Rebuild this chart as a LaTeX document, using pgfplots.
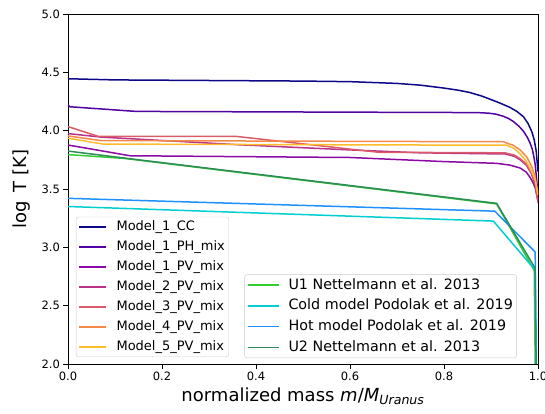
\documentclass[border=0pt]{standalone}
\usepackage{pgfplots}
\pgfplotsset{compat=1.18}
\usepackage{fontspec}
\setmainfont{DejaVu Sans}

% plasma-like sequence for the seven interior models
\definecolor{pl0}{HTML}{0D0887}
\definecolor{pl1}{HTML}{5302A3}
\definecolor{pl2}{HTML}{8B0AA5}
\definecolor{pl3}{HTML}{B83289}
\definecolor{pl4}{HTML}{DB5C68}
\definecolor{pl5}{HTML}{F48849}
\definecolor{pl6}{HTML}{FEBC2A}
% published reference profiles
\definecolor{limeg}{HTML}{32CD32}
\definecolor{dturq}{HTML}{00CED1}
\definecolor{dodger}{HTML}{1E90FF}
\definecolor{seag}{HTML}{2E8B57}

\pgfplotsset{
  common/.style={
    scale only axis, width=470bp, height=350bp,
    xmin=0, xmax=1, ymin=2, ymax=5,
    every axis plot/.append style={line width=1.5bp, line join=round},
    legend cell align=left,
  },
  boxed legend/.style={
    legend style={
      draw=black!20, rounded corners=2.5bp, fill=white, fill opacity=0.8,
      text opacity=1, draw opacity=1, inner xsep=2.4bp, inner ysep=2bp,
      column sep=0bp,
    },
  },
}

\begin{document}
\begin{tikzpicture}
\begin{axis}[
  common, boxed legend, name=main,
  axis line style={line width=0.9bp},
  tick align=outside, major tick length=4.6bp,
  every tick/.style={black, line width=0.9bp},
  xtick={0,0.2,...,1.0}, ytick={2,2.5,...,5},
  xtick pos=bottom, ytick pos=left,
  /pgf/number format/assume math mode=true,
  /pgf/number format/.cd, fixed, fixed zerofill, precision=1,
  /pgfplots/.cd,
  ticklabel style={font=\fontsize{11.5bp}{13bp}\selectfont},
  xlabel={normalized mass \textit{m}/\textit{M}\textsubscript{\textit{Uranus}}},
  ylabel={log\, T [K]},
  every axis x label/.style={at={(axis description cs:0.5,-0.092)}, anchor=center,
    font=\fontsize{18bp}{21bp}\selectfont},
  every axis y label/.style={at={(axis description cs:-0.098,0.5)}, anchor=center,
    rotate=90, font=\fontsize{18bp}{21bp}\selectfont},
  legend image code/.code={
    \draw[#1, line width=1.6bp] (0bp,0bp) -- (27bp,0bp);
    \path (0bp,-2bp) (35bp,2bp);},
  legend style={at={(axis description cs:0.017,0.02)}, anchor=south west,
    font=\fontsize{13bp}{15bp}\selectfont, row sep=4.2bp,
    nodes={inner sep=1.4bp, text height=10bp, text depth=3bp}},
]
\addplot[pl0] coordinates {
  (0,4.445) (0.05,4.44) (0.1,4.435) (0.3,4.43) (0.5,4.425) (0.6,4.42)
  (0.7,4.405) (0.75,4.39) (0.8,4.365) (0.83,4.347) (0.855,4.327) (0.88,4.297)
  (0.901,4.265) (0.92,4.235) (0.94,4.20) (0.955,4.165) (0.969,4.12) (0.979,4.06)
  (0.987,3.99) (0.992,3.92) (0.996,3.83) (1.0,3.65)};
\addlegendentry{Model\_1\_CC}
\addplot[pl1] coordinates {
  (0,4.22) (0.004,4.205) (0.145,4.165) (0.5,4.16) (0.87,4.155) (0.895,4.15)
  (0.91,4.142) (0.925,4.125) (0.937,4.105) (0.947,4.08) (0.959,4.04) (0.969,3.995)
  (0.977,3.945) (0.983,3.895) (0.988,3.84) (0.991,3.78) (0.994,3.71) (0.996,3.63)
  (1.0,3.45)};
\addlegendentry{Model\_1\_PH\_mix}
\addplot[pl2] coordinates {
  (0,3.877) (0.132,3.785) (0.6,3.77) (0.8,3.735) (0.912,3.72) (0.94,3.705)
  (0.962,3.68) (0.975,3.645) (0.983,3.60) (0.99,3.55) (0.994,3.51) (1.0,3.40)};
\addlegendentry{Model\_1\_PV\_mix}
\addplot[pl3] coordinates {
  (0,3.975) (0.07,3.945) (0.36,3.88) (0.6,3.835) (0.75,3.81) (0.93,3.80)
  (0.95,3.78) (0.962,3.75) (0.975,3.705) (0.985,3.64) (0.994,3.54) (1.0,3.40)};
\addlegendentry{Model\_2\_PV\_mix}
\addplot[pl4] coordinates {
  (0,4.035) (0.065,3.95) (0.36,3.95) (0.66,3.815) (0.93,3.81) (0.95,3.79)
  (0.962,3.76) (0.975,3.715) (0.985,3.65) (0.994,3.55) (1.0,3.38)};
\addlegendentry{Model\_3\_PV\_mix}
\addplot[pl5] coordinates {
  (0,3.955) (0.07,3.915) (0.5,3.91) (0.926,3.905) (0.947,3.875) (0.962,3.835)
  (0.976,3.775) (0.987,3.69) (0.994,3.60) (1.0,3.45)};
\addlegendentry{Model\_4\_PV\_mix}
\addplot[pl6] coordinates {
  (0,3.935) (0.075,3.885) (0.5,3.88) (0.934,3.875) (0.95,3.845) (0.962,3.80)
  (0.974,3.745) (0.983,3.68) (0.994,3.58) (1.0,3.45)};
\addlegendentry{Model\_5\_PV\_mix}
\end{axis}

\begin{axis}[
  common, boxed legend, hide axis,
  at={(main.south west)}, anchor=south west,
  legend image code/.code={
    \draw[#1, line width=1.6bp] (0bp,0bp) -- (31bp,0bp);
    \path (0bp,-2bp) (38.5bp,2bp);},
  legend style={at={(axis description cs:0.955,0.017)}, anchor=south east,
    font=\fontsize{14.3bp}{16.5bp}\selectfont, row sep=3.6bp,
    nodes={inner sep=1.4bp, text height=11bp, text depth=3.3bp}},
]
\addplot[limeg] coordinates {
  (0,3.795) (0.12,3.762) (0.912,3.372) (0.992,2.80) (0.994,2.0)};
\addlegendentry{U1 Nettelmann et al. 2013}
\addplot[dturq] coordinates {
  (0,3.35) (0.905,3.225) (0.993,2.81) (0.995,2.0)};
\addlegendentry{Cold model Podolak et al. 2019}
\addplot[dodger] coordinates {
  (0,3.42) (0.908,3.31) (0.994,2.96) (0.996,2.0)};
\addlegendentry{Hot model Podolak et al. 2019}
\addplot[seag] coordinates {
  (0,3.825) (0.12,3.765) (0.912,3.377) (0.994,2.82) (0.996,2.0)};
\addlegendentry{U2 Nettelmann et al. 2013}
\end{axis}

\pgfresetboundingbox
\path[use as bounding box] ([shift={(-68bp,-50bp)}]main.south west)
  rectangle ([shift={(7bp,14bp)}]main.north east);
\end{tikzpicture}
\end{document}
